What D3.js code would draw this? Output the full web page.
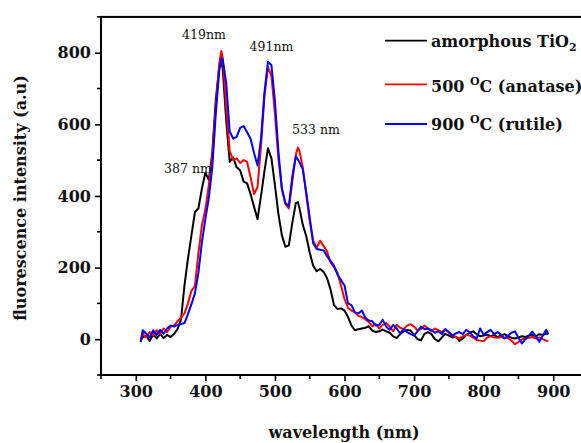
<!DOCTYPE html>
<html>
<head>
<meta charset="utf-8">
<script src="https://cdn.jsdelivr.net/npm/d3@7"></script>
<style>
  html, body { margin: 0; padding: 0; background: #ffffff; }
  svg { display: block; }
</style>
</head>
<body>
<svg id="chart" width="581" height="443"></svg>
<script>
// ---- data ----
const wavelength = [
  307,310,315,320,325,330,335,340,345,350,
  355,360,365,370,375,380,385,390,395,400,
  405,410,415,420,423,425,430,435,440,445,
  450,455,460,465,470,475,480,485,490,495,
  500,505,510,515,520,525,530,533,535,540,
  545,550,555,560,565,570,575,580,585,590,
  595,600,605,610,615,620,625,630,635,640,
  645,650,655,660,665,670,675,680,685,690,
  695,700,705,710,715,720,725,730,735,740,
  745,750,755,760,765,770,775,780,785,790,
  795,800,805,810,815,820,825,830,835,840,
  845,850,855,860,865,870,875,880,885,890,
  893
];
const amorphous = [
  -3,5,10,-5,14,2,15,3,12,6,
  15,28,55,150,225,290,355,365,420,465,
  445,520,670,760,772,755,610,495,508,480,
  472,440,435,405,370,335,400,470,533,505,
  430,350,290,258,262,325,380,383,368,320,
  288,242,205,190,196,188,170,138,95,84,
  86,80,62,38,25,28,30,32,36,24,
  20,22,27,22,18,8,3,14,22,26,
  24,12,0,-3,15,20,14,0,-6,5,
  15,10,5,7,-5,2,12,18,22,14,
  8,10,13,8,12,6,10,14,8,4,
  2,5,8,6,10,12,8,14,12,16,
  14
];
const anatase500 = [
  -5,15,5,20,10,25,15,30,20,35,
  38,50,60,72,100,135,148,240,318,362,
  430,510,650,770,805,785,650,525,500,505,
  492,500,495,452,405,425,540,680,760,735,
  630,505,420,378,365,440,515,535,528,480,
  405,330,275,255,275,260,245,215,200,185,
  150,112,88,80,75,65,62,55,48,36,
  42,30,40,45,35,22,40,32,28,38,
  42,35,25,28,38,30,22,30,25,20,
  28,18,10,6,2,8,12,10,4,-2,
  -4,-6,5,8,5,4,6,4,3,-4,
  -14,-8,0,2,4,6,2,5,0,-4,
  -6
];
const rutile900 = [
  -8,25,15,5,25,12,26,15,30,38,
  35,40,42,45,70,98,128,185,270,335,
  395,480,630,750,785,780,715,580,560,565,
  590,595,578,560,520,485,560,690,775,765,
  665,525,420,380,372,455,510,502,495,475,
  410,340,268,252,250,248,232,218,205,180,
  165,150,100,95,75,72,80,60,52,50,
  38,40,54,35,26,40,30,16,28,20,
  14,10,22,35,28,30,25,18,22,14,
  28,20,10,16,20,14,26,20,8,2,
  30,12,20,26,14,20,12,2,10,18,
  22,4,-12,0,10,21,8,-7,10,26,
  14
];
const seriesNames = ["amorphous", "anatase500", "rutile900"];
const seriesColors = ["#000000", "#ff0000", "#0000ff"];

const xTicks = [300, 400, 500, 600, 700, 800, 900];
const xMinorTicks = [250, 350, 450, 550, 650, 750, 850, 950];
const yTicks = [0, 200, 400, 600, 800];
const yMinorTicks = [-100, 100, 300, 500, 700, 900];

const annLabels = ["419nm", "491nm", "533 nm", "387 nm"];
const annWl = [398, 495, 559, 375];
const annVal = [838, 805, 573, 464];

// ---- drawing ----
const svg = d3.select("#chart");
svg.append("rect").attr("width", 581).attr("height", 443).attr("fill", "#ffffff");

const x = d3.scaleLinear().domain([250, 950]).range([101, 588]);
const y = d3.scaleLinear().domain([-100, 900]).range([375, 16.9]);

const serif = "'DejaVu Serif', 'Liberation Serif', serif";

// Frame
svg.append("rect")
  .attr("x", x(250)).attr("y", y(900))
  .attr("width", x(950) - x(250)).attr("height", y(-100) - y(900))
  .attr("fill", "none").attr("stroke", "#000").attr("stroke-width", 2);

// X axis
const xAxis = svg.append("g").attr("transform", `translate(0,${y(-100)})`)
  .call(d3.axisBottom(x).tickValues(xTicks).tickSize(6).tickSizeOuter(0).tickPadding(5));
xAxis.select(".domain").remove();
xAxis.selectAll(".tick line").attr("stroke", "#000").attr("stroke-width", 1.6);
xAxis.selectAll(".tick text").attr("font-family", serif).attr("font-size", 16)
  .attr("font-weight", "bold").attr("fill", "#111");
svg.append("g").selectAll("line").data(xMinorTicks).join("line")
  .attr("x1", d => x(d)).attr("x2", d => x(d))
  .attr("y1", y(-100)).attr("y2", y(-100) + 4)
  .attr("stroke", "#000").attr("stroke-width", 1.6);

// Y axis
const yAxis = svg.append("g").attr("transform", `translate(${x(250)},0)`)
  .call(d3.axisLeft(y).tickValues(yTicks).tickSize(6).tickSizeOuter(0).tickPadding(4));
yAxis.select(".domain").remove();
yAxis.selectAll(".tick line").attr("stroke", "#000").attr("stroke-width", 1.6);
yAxis.selectAll(".tick text").attr("font-family", serif).attr("font-size", 16)
  .attr("font-weight", "bold").attr("fill", "#111");
svg.append("g").selectAll("line").data(yMinorTicks).join("line")
  .attr("x1", x(250) - 4).attr("x2", x(250))
  .attr("y1", d => y(d)).attr("y2", d => y(d))
  .attr("stroke", "#000").attr("stroke-width", 1.6);

// Axis titles
svg.append("text")
  .attr("x", 344).attr("y", 437.5)
  .attr("text-anchor", "middle")
  .attr("font-family", serif).attr("font-size", 16).attr("font-weight", "bold")
  .attr("fill", "#111")
  .text("wavelength (nm)");
svg.append("text")
  .attr("transform", "translate(26,198) rotate(-90)")
  .attr("text-anchor", "middle")
  .attr("font-family", serif).attr("font-size", 16).attr("font-weight", "bold")
  .attr("fill", "#111")
  .text("fluorescence intensity (a.u)");

// Lines
const dataBySeries = [amorphous, anatase500, rutile900];
const line = d3.line().x(d => x(d[0])).y(d => y(d[1]));
const plot = svg.append("g");
dataBySeries.forEach((vals, i) => {
  const pts = wavelength.map((w, k) => [w, vals[k]]);
  plot.append("path")
    .datum(pts)
    .attr("class", "series " + seriesNames[i])
    .attr("d", line)
    .attr("fill", "none")
    .attr("stroke", seriesColors[i])
    .attr("stroke-width", 2)
    .attr("stroke-linejoin", "round");
});

// Annotations
svg.append("g").selectAll("text").data(annLabels).join("text")
  .attr("x", (d, i) => x(annWl[i]))
  .attr("y", (d, i) => y(annVal[i]))
  .attr("text-anchor", "middle")
  .attr("font-family", serif).attr("font-size", 12.5)
  .attr("fill", "#111")
  .text(d => d);

// Legend
const legend = svg.append("g");
const legY = [40.7, 84.3, 124];
const legTextY = [46.5, 91.5, 130];
legend.selectAll("line").data(seriesColors).join("line")
  .attr("x1", 385).attr("x2", 427)
  .attr("y1", (d, i) => legY[i]).attr("y2", (d, i) => legY[i])
  .attr("stroke", d => d).attr("stroke-width", 1.8);

const lt = legend.selectAll("text").data([0, 1, 2]).join("text")
  .attr("x", 431).attr("y", i => legTextY[i])
  .attr("font-family", serif).attr("font-size", 16).attr("font-weight", "bold")
  .attr("fill", "#111");
// entry 0
const t0 = d3.select(lt.nodes()[0]);
t0.append("tspan").text("amorphous TiO");
t0.append("tspan").attr("font-size", 11).attr("dy", 4).text("2");
// entries 1, 2
[["500 ", " (anatase)"], ["900 ", " (rutile)"]].forEach((p, k) => {
  const t = d3.select(lt.nodes()[k + 1]);
  t.append("tspan").text(p[0]);
  t.append("tspan").attr("font-size", 11).attr("dy", -7).text("O");
  t.append("tspan").attr("dy", 7).text("C");
  t.append("tspan").text(p[1]);
});
</script>
</body>
</html>
